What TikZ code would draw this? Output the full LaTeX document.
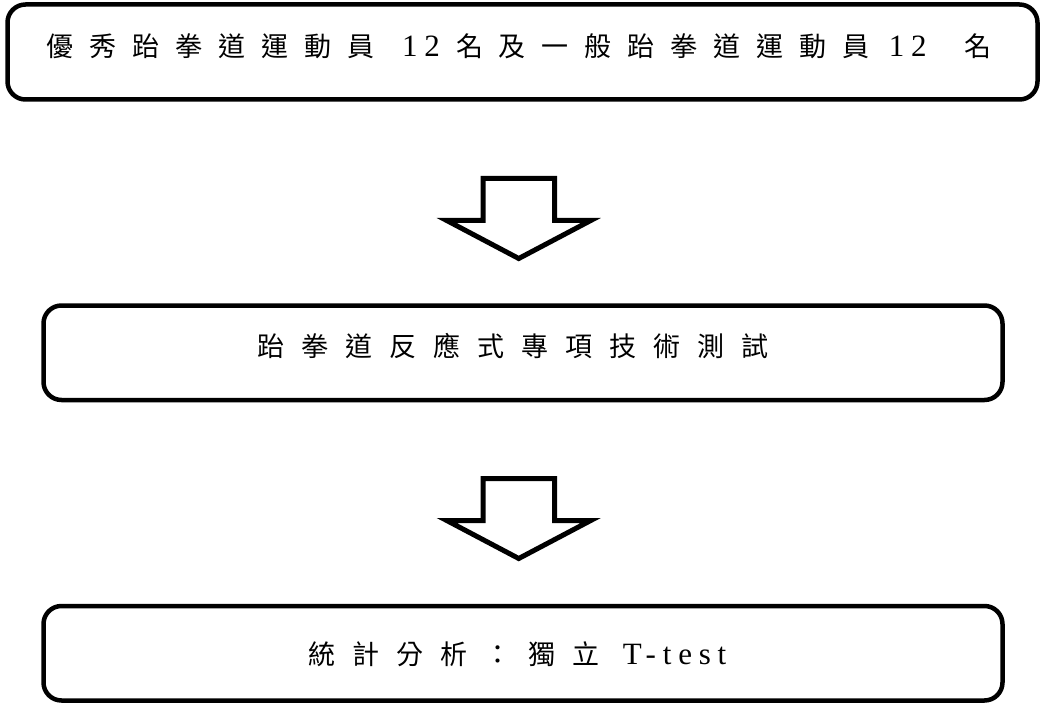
\documentclass[tikz,border=0pt]{standalone}
\usepackage{fontspec}
\setmainfont{Liberation Serif}
\newfontfamily\cjka{Noto Sans CJK TC}[LetterSpace=59]
\newfontfamily\cjkb{Noto Sans CJK TC}[LetterSpace=63]
\newfontfamily\lat{Liberation Serif}[LetterSpace=22]
\begin{document}
\begin{tikzpicture}[x=1pt,y=-1pt,
  box/.style={draw,line width=4.5pt,rounded corners=18pt,inner sep=0pt,outer sep=0pt},
  txt/.style={anchor=base west,inner sep=0pt,font=\fontsize{27}{30}\selectfont},
  blockarrow/.style={draw,line width=5pt,fill=white,line join=miter,miter limit=10}]
\useasboundingbox (0,0) rectangle (1045,706);
% boxes
\node[box,minimum width=1030pt,minimum height=95pt] (b1) at (522.5,52) {};
\node[box,minimum width=959pt,minimum height=94.5pt] (b2) at (523,352.75) {};
\node[box,minimum width=959pt,minimum height=94.5pt] (b3) at (523,653.25) {};
% texts
\node[txt] (t1) at (46.5,57) {\cjka 優秀跆拳道運動員\hspace{28pt}{\fontsize{31}{32}\lat 12}\hspace{16pt}名及一般跆拳道運動員\hspace{19.5pt}{\fontsize{31}{32}\lat 12}\hspace{38pt}名};
\node[txt] (t2) at (257,356) {\cjkb 跆拳道反應式專項技術測試};
\node[txt] (t3) at (308,664) {\cjkb 統計分析：獨立\hspace{23.5pt}{\fontsize{31}{32}\lat T-test}};
% block arrows
\coordinate (a1) at (518.75,178.5);
\coordinate (a2) at (518.75,478.5);
\foreach \a in {a1,a2}{
  \draw[blockarrow] ([xshift=-35.75pt]\a) -- ([xshift=35.75pt]\a) -- ([xshift=35.75pt,yshift=-42pt]\a)
    -- ([xshift=72pt,yshift=-42pt]\a) -- ([yshift=-80pt]\a) -- ([xshift=-72pt,yshift=-42pt]\a)
    -- ([xshift=-35.75pt,yshift=-42pt]\a) -- cycle;
}
\end{tikzpicture}
\end{document}
